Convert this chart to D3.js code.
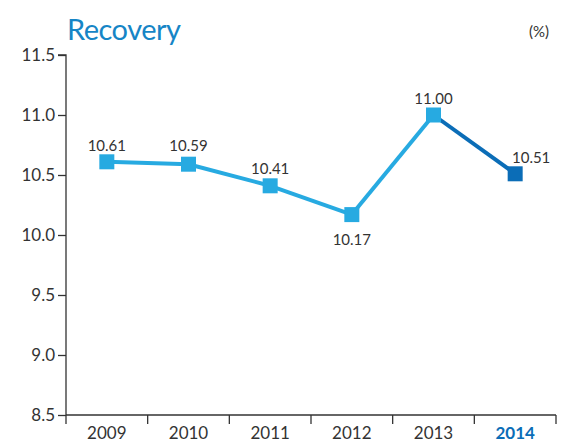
<!DOCTYPE html>
<html>
<head>
<meta charset="utf-8">
<script src="https://cdn.jsdelivr.net/npm/d3@7"></script>
<style>
  body { margin: 0; background: #fff; }
  svg { font-family: "Lato", "Open Sans", sans-serif; }
</style>
</head>
<body>
<svg id="chart" width="562" height="445"></svg>
<script>
// chart data
const years = ['2009', '2010', '2011', '2012', '2013', '2014'];
const recovery = [10.61, 10.59, 10.41, 10.17, 11.00, 10.51];
const yTicks = [8.5, 9.0, 9.5, 10.0, 10.5, 11.0, 11.5];

const light = '#27aae1';
const dark = '#0b6db7';
const axisColor = '#333';

const svg = d3.select('#chart');
const margin = { top: 55, left: 66, right: 6, bottom: 30 };
const height = 415;

const x = d3.scaleBand()
  .domain(years)
  .range([margin.left, 556]);

const y = d3.scaleLinear()
  .domain([8.5, 11.5])
  .range([height, margin.top]);

const data = years.map((yr, i) => ({ year: yr, value: recovery[i] }));

// title
svg.append('text')
  .attr('x', 67)
  .attr('y', 40)
  .attr('fill', '#1685c6')
  .attr('font-size', 29)
  .attr('letter-spacing', -0.5)
  .text('Recovery');

svg.append('text')
  .attr('x', 549)
  .attr('y', 37)
  .attr('text-anchor', 'end')
  .attr('fill', axisColor)
  .attr('font-size', 15)
  .text('(%)');

// y axis
const yAxis = svg.append('g')
  .attr('transform', `translate(${margin.left},0)`)
  .call(d3.axisLeft(y).tickValues(yTicks).tickFormat(d3.format('.1f')).tickSize(8).tickPadding(3));
yAxis.select('.domain').attr('d', `M-8,${margin.top}H0V${height}`);

// x axis
const xAxis = svg.append('g')
  .attr('transform', `translate(0,${height})`)
  .call(d3.axisBottom(x).tickSize(0).tickPadding(12));
xAxis.select('.domain').attr('d', `M${margin.left},0H556`);
xAxis.selectAll('.xtick')
  .data(years.slice(1).concat(['end']))
  .enter().append('line')
  .attr('class', 'xtick')
  .attr('x1', (d, i) => x.range()[0] + x.bandwidth() * (i + 1))
  .attr('x2', (d, i) => x.range()[0] + x.bandwidth() * (i + 1))
  .attr('y1', 0)
  .attr('y2', 9)
  .attr('stroke', axisColor)
  .attr('stroke-width', 1.3);
xAxis.append('line')
  .attr('x1', margin.left).attr('x2', margin.left)
  .attr('y1', 0).attr('y2', 9)
  .attr('stroke', axisColor).attr('stroke-width', 1.3);

svg.selectAll('.domain, .tick line')
  .attr('stroke', axisColor)
  .attr('stroke-width', 1.3);
yAxis.selectAll('.tick text')
  .attr('font-size', 17)
  .attr('font-family', 'Lato, sans-serif')
  .attr('fill', axisColor);
xAxis.selectAll('.tick text')
  .attr('font-size', 17)
  .attr('font-family', 'Lato, sans-serif')
  .attr('fill', (d) => d === '2014' ? dark : axisColor)
  .attr('font-weight', (d) => d === '2014' ? 'bold' : null);

const cx = (d) => x(d.year) + x.bandwidth() / 2;

// line segments
for (let i = 0; i < data.length - 1; i++) {
  svg.append('line')
    .attr('x1', cx(data[i])).attr('y1', y(data[i].value))
    .attr('x2', cx(data[i + 1])).attr('y2', y(data[i + 1].value))
    .attr('stroke', data[i + 1].year === '2014' ? dark : light)
    .attr('stroke-width', 4);
}

// markers
const size = 15;
svg.selectAll('.marker')
  .data(data)
  .enter().append('rect')
  .attr('class', 'marker')
  .attr('x', (d) => cx(d) - size / 2)
  .attr('y', (d) => y(d.value) - size / 2)
  .attr('width', size)
  .attr('height', size)
  .attr('fill', (d) => d.year === '2014' ? dark : light);

// value labels
const labelPos = {
  '2009': { dx: 0, dy: -11 },
  '2010': { dx: 0, dy: -13 },
  '2011': { dx: 0, dy: -12 },
  '2012': { dx: 0, dy: 30 },
  '2013': { dx: 0, dy: -11 },
  '2014': { dx: 16, dy: -11 }
};
svg.selectAll('.label')
  .data(data)
  .enter().append('text')
  .attr('class', 'label')
  .attr('x', (d) => cx(d) + labelPos[d.year].dx)
  .attr('y', (d) => y(d.value) + labelPos[d.year].dy)
  .attr('text-anchor', 'middle')
  .attr('font-size', 15)
  .attr('fill', axisColor)
  .text((d) => d.value.toFixed(2));
</script>
</body>
</html>
